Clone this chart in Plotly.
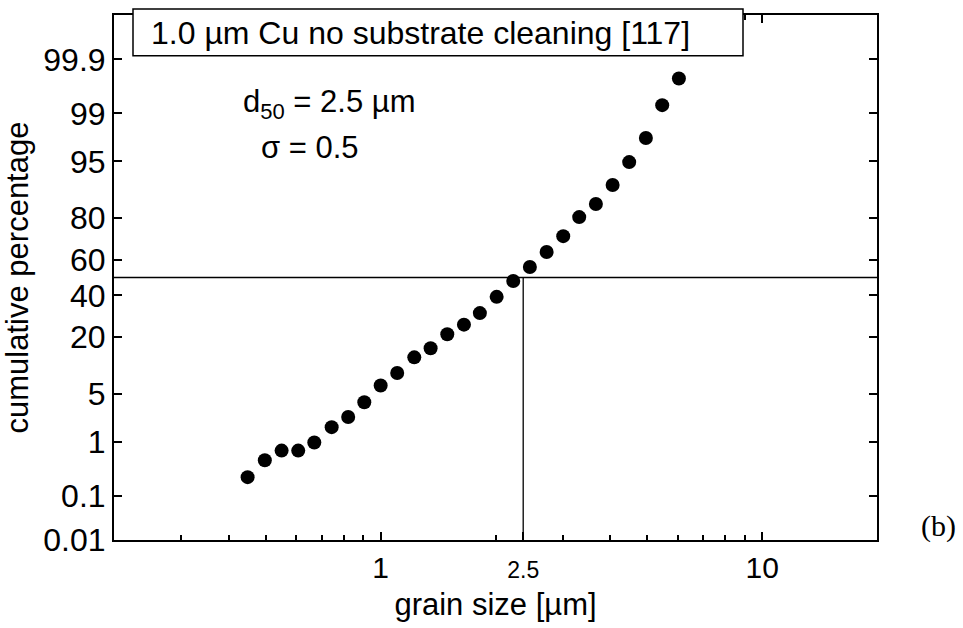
import math
from statistics import NormalDist
import plotly.graph_objects as go

_nd = NormalDist()


def probit(pct):
    """Normal-probability (probit) scale transform of a percentage."""
    return _nd.inv_cdf(pct / 100.0)


# ---------------- data ----------------
grain_size = [0.448, 0.497, 0.550, 0.608, 0.670, 0.744, 0.822, 0.906, 1.0,
              1.105, 1.225, 1.352, 1.495, 1.653, 1.820, 2.014, 2.226, 2.461,
              2.723, 3.010, 3.315, 3.666, 4.055, 4.482, 4.957, 5.47, 6.05]
cum_pct = [0.234, 0.48, 0.71, 0.71, 0.97, 1.7, 2.4, 3.85, 6.3,
           8.8, 12.9, 15.8, 21.1, 25.2, 30.7, 39.2, 48.0, 55.9,
           64.1, 72.1, 80.4, 85.1, 90.5, 94.9, 97.6, 99.27, 99.76]

y_tick_pct = [0.01, 0.1, 1, 5, 20, 40, 60, 80, 95, 99, 99.9]
y_tick_text = ["0.01", "0.1", "1", "5", "20", "40", "60", "80", "95", "99", "99.9"]

x_tick_vals = [1, 2.364, 10]
x_tick_text = ["1", "<span style='font-size:23px'>2.5</span>", "10"]
x_minor_vals = [0.3, 0.4, 0.5, 0.6, 0.7, 0.8, 0.9, 2, 3, 4, 5, 6, 7, 8, 9]

x_range = [0.2, 20]
y_range_pct = [0.01, 99.99]
d50_x = 2.364
d50_pct = 50

box_label = "1.0 µm Cu no substrate cleaning [117]"
d50_label = "d<sub><span style='font-size:22px'>50</span></sub> = 2.5 µm"
sigma_label = "σ = 0.5"

# ---------------- figure ----------------
W, H = 963, 628
L, R, T, B = 114, 86, 15, 86
pw, ph = W - L - R, H - T - B


def px(xpix):
    return (xpix - L) / pw


def py(ypix):
    return (H - B - ypix) / ph


fig = go.Figure()

# guide lines at the median
fig.add_trace(go.Scatter(
    x=[x_range[0], x_range[1]], y=[probit(d50_pct)] * 2,
    mode="lines", line=dict(color="black", width=1.3),
    hoverinfo="skip", showlegend=False))
fig.add_trace(go.Scatter(
    x=[d50_x, d50_x], y=[probit(y_range_pct[0]), probit(d50_pct)],
    mode="lines", line=dict(color="black", width=1.3),
    hoverinfo="skip", showlegend=False))

fig.add_trace(go.Scatter(
    x=grain_size, y=[probit(p) for p in cum_pct],
    mode="markers", marker=dict(size=14, color="black"),
    showlegend=False))

fig.update_layout(
    width=W, height=H,
    margin=dict(l=L, r=R, t=T, b=B, pad=0),
    paper_bgcolor="white", plot_bgcolor="white",
    font=dict(family="Liberation Sans, Arial, sans-serif", size=31, color="black"),
    showlegend=False,
)

fig.update_xaxes(
    type="log", range=[math.log10(x_range[0]), math.log10(x_range[1])],
    tickmode="array", tickvals=x_tick_vals, ticktext=x_tick_text,
    ticks="inside", ticklen=8, tickwidth=2, tickcolor="black",
    showline=True, linewidth=2, linecolor="black", mirror="ticks",
    showgrid=False, zeroline=False,
    minor=dict(tickvals=x_minor_vals, ticks="inside", ticklen=5,
               tickwidth=1.5, tickcolor="black", showgrid=False),
    tickfont=dict(size=30),
    title=dict(text="grain size [µm]", font=dict(size=31), standoff=10),
)

fig.update_yaxes(
    range=[probit(y_range_pct[0]), probit(y_range_pct[1])],
    tickmode="array", tickvals=[probit(p) for p in y_tick_pct], ticktext=y_tick_text,
    ticks="inside", ticklen=8, tickwidth=2, tickcolor="black",
    showline=True, linewidth=2, linecolor="black", mirror="ticks",
    showgrid=False, zeroline=False,
    tickfont=dict(size=32),
    title=dict(text="cumulative percentage", font=dict(size=31), standoff=6),
)

# framed label box at the top
fig.add_shape(type="rect", xref="paper", yref="paper",
              x0=px(133), x1=px(743), y0=py(56), y1=py(9),
              line=dict(color="black", width=1.5), fillcolor="white", layer="above")
fig.add_annotation(text=box_label, xref="paper", yref="paper",
                   x=px(149), y=py(33), xanchor="left", yanchor="middle",
                   showarrow=False, font=dict(size=32))
fig.add_annotation(text=d50_label, xref="paper", yref="paper",
                   x=px(241), y=py(104), xanchor="left", yanchor="middle",
                   showarrow=False, font=dict(size=31))
fig.add_annotation(text=sigma_label, xref="paper", yref="paper",
                   x=px(259), y=py(148), xanchor="left", yanchor="middle",
                   showarrow=False, font=dict(size=31))
fig.add_annotation(text="(b)", xref="paper", yref="paper",
                   x=px(939), y=py(528), xanchor="center", yanchor="middle",
                   showarrow=False,
                   font=dict(family="Liberation Serif, Times New Roman, serif", size=30))

fig.write_html("out.html")
